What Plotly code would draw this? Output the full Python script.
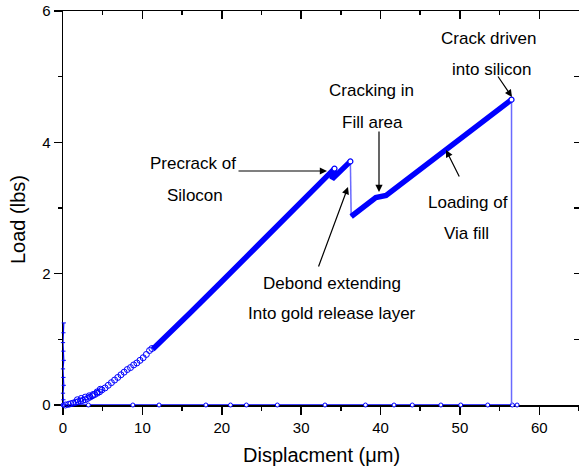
import plotly.graph_objects as go

# ---- data ----
spike_disp = [0.0, 0.05, 0.0, 0.1, 0.05, 0.0, 0.1, 0.05, 0.0, 0.05, 0.1]
spike_load = [0.0, 0.08, 0.18, 0.30, 0.42, 0.55, 0.68, 0.82, 0.95, 1.10, 1.25]

toe_disp = [0.3, 0.7, 1.0, 1.3, 1.6, 1.9, 2.2, 2.5, 2.8, 3.1, 3.4, 3.7, 4.0, 4.3, 4.6, 4.9,
            5.3, 5.7, 6.1, 6.5, 6.9, 7.3, 7.7, 8.1, 8.5, 8.9, 9.3, 9.7, 10.1, 10.5, 10.9, 11.2]
toe_load = [0.00, 0.01, 0.02, 0.03, 0.04, 0.05, 0.06, 0.07, 0.08, 0.10, 0.12, 0.14, 0.16, 0.18, 0.20, 0.23,
            0.26, 0.30, 0.34, 0.38, 0.42, 0.46, 0.50, 0.54, 0.57, 0.61, 0.64, 0.68, 0.72, 0.77, 0.83, 0.86]
toe2_disp = [1.8, 2.3, 2.8, 3.3, 3.8, 4.3, 4.7]
toe2_load = [0.08, 0.10, 0.12, 0.14, 0.16, 0.20, 0.24]

load1_disp = [11.3, 13.0, 16.0, 20.0, 24.0, 28.0, 32.0, 34.2, 33.9, 36.2]
load1_load = [0.85, 1.04, 1.40, 1.88, 2.36, 2.84, 3.33, 3.60, 3.44, 3.71]

drop1_disp = [36.2, 36.3]
drop1_load = [3.71, 2.87]

load2_disp = [36.3, 36.8, 38.0, 39.4, 40.7, 44.0, 48.0, 52.0, 56.5]
load2_load = [2.87, 2.92, 3.03, 3.16, 3.19, 3.50, 3.87, 4.24, 4.65]

drop2_disp = [56.5, 56.5]
drop2_load = [4.65, 0.0]

peak_disp = [34.2, 36.2, 56.5]
peak_load = [3.60, 3.71, 4.65]

base_disp = [0.0, 3.2, 8.8, 12.1, 18.0, 21.1, 23.1, 27.0, 33.0, 38.1, 41.7, 44.0, 47.6, 50.1, 53.5, 56.6, 57.2]
base_load = [0.0] * len(base_disp)

x_ticks = [0, 10, 20, 30, 40, 50, 60]
y_ticks = [0, 2, 4, 6]

BLUE = "#0000ff"
THIN = "#6a6aff"
FONT = "Arial, Liberation Sans, sans-serif"

# plot area in window pixels (page body margin is removed below)
PL, PT, PW, PH = 63, 11, 516, 394
FIG_W, FIG_H = 579, 471

fig = go.Figure()

fig.add_trace(go.Scatter(x=base_disp, y=base_load, mode="lines+markers",
                         line=dict(color=BLUE, width=1.5),
                         marker=dict(symbol="circle", size=4, color="white", line=dict(color=BLUE, width=1)),
                         cliponaxis=False, hoverinfo="skip"))
fig.add_trace(go.Scatter(x=spike_disp, y=spike_load, mode="lines+markers",
                         line=dict(color=BLUE, width=1.2),
                         marker=dict(symbol="line-ew-open", size=3, color=BLUE, line=dict(color=BLUE, width=1)),
                         cliponaxis=False, hoverinfo="skip"))
fig.add_trace(go.Scatter(x=toe_disp + toe2_disp, y=toe_load + toe2_load, mode="markers",
                         marker=dict(symbol="circle-open", size=6, color=BLUE, line=dict(color=BLUE, width=1)),
                         cliponaxis=False, hoverinfo="skip"))
fig.add_trace(go.Scatter(x=drop1_disp, y=drop1_load, mode="lines",
                         line=dict(color=THIN, width=1.5), hoverinfo="skip"))
fig.add_trace(go.Scatter(x=drop2_disp, y=drop2_load, mode="lines",
                         line=dict(color=THIN, width=1.5), hoverinfo="skip"))
fig.add_trace(go.Scatter(x=load1_disp, y=load1_load, mode="lines",
                         line=dict(color=BLUE, width=5.5), hoverinfo="skip"))
fig.add_trace(go.Scatter(x=load2_disp, y=load2_load, mode="lines",
                         line=dict(color=BLUE, width=5.5), hoverinfo="skip"))
fig.add_trace(go.Scatter(x=peak_disp, y=peak_load, mode="markers",
                         marker=dict(symbol="circle", size=5, color="white", line=dict(color=BLUE, width=1.2)),
                         cliponaxis=False, hoverinfo="skip"))
# invisible trace to anchor mirror axes
fig.add_trace(go.Scatter(x=[], y=[], xaxis="x2", yaxis="y2", hoverinfo="skip"))

axis_common = dict(showgrid=False, zeroline=False, linecolor="black", linewidth=1.5,
                   tickcolor="black", tickwidth=1.5, automargin=False)
tick_font = dict(family=FONT, size=15, color="black")

fig.update_layout(
    width=FIG_W, height=FIG_H,
    margin=dict(l=PL, r=FIG_W - PL - PW, t=PT, b=FIG_H - PT - PH, pad=0, autoexpand=False),
    paper_bgcolor="white", plot_bgcolor="white",
    showlegend=False, hovermode=False,
    xaxis=dict(range=[0, 65], tickvals=x_ticks, ticks="outside", ticklen=8, tickfont=tick_font,
               ticklabeloverflow="allow",
               minor=dict(dtick=5, tick0=0, ticks="outside", ticklen=4, tickcolor="black", tickwidth=1.5),
               layer="below traces", showline=True, **axis_common),
    yaxis=dict(range=[0, 6], tickvals=y_ticks, ticks="outside", ticklen=8, tickfont=tick_font,
               ticklabeloverflow="allow",
               minor=dict(dtick=1, tick0=0, ticks="outside", ticklen=4, tickcolor="black", tickwidth=1.5),
               layer="below traces", showline=True, **axis_common),
    xaxis2=dict(range=[0, 65], overlaying="x", side="top", anchor="y", tickvals=x_ticks,
                ticks="inside", ticklen=8, showticklabels=False, showline=True,
                minor=dict(dtick=5, tick0=0, ticks="inside", ticklen=4, tickcolor="black", tickwidth=1.5),
                **axis_common),
    yaxis2=dict(range=[0, 6], overlaying="y", side="right", anchor="x", dtick=1, tick0=0,
                ticks="inside", ticklen=5, showticklabels=False, showline=False,
                **axis_common),
)

ann_font = dict(family=FONT, size=17, color="black")

# positions below are reference-window pixels
texts = [
    ("Precrack of", 193, 163), ("Silocon", 195, 195),
    ("Debond extending", 332, 283), ("Into gold release layer", 332, 313),
    ("Cracking in", 371, 90), ("Fill area", 372, 122),
    ("Loading of", 468, 202), ("Via fill", 466, 233),
    ("Crack driven", 488, 38), ("into silicon", 491, 69),
]

def dx(px):
    return (px - PL) / (PW / 65)

def dy(py):
    return (PT + PH - py) / (PH / 6)

for t, px, py in texts:
    fig.add_annotation(x=dx(px), y=dy(py), xref="x", yref="y", text=t, showarrow=False,
                       font=ann_font, xanchor="center", yanchor="middle")

arrows = [
    ((237, 171), (327, 171)),
    ((318, 268), (348, 187)),
    ((379, 130), (379, 192)),
    ((460, 178), (446, 150)),
    ((497, 75), (512, 97)),
]
for (tx, ty), (hx, hy) in arrows:
    fig.add_annotation(x=dx(hx), y=dy(hy), ax=dx(tx), ay=dy(ty), xref="x", yref="y",
                       axref="x", ayref="y", text="", showarrow=True,
                       arrowhead=2, arrowsize=1.2, arrowwidth=1.2, arrowcolor="black")

# axis titles, placed in paper coords (relative to the plot area)
fig.add_annotation(x=(321 - PL) / PW, y=(PT + PH - 455) / PH, xref="paper", yref="paper",
                   text="Displacment (\u03bcm)", showarrow=False,
                   font=dict(family=FONT, size=20, color="black"), xanchor="center", yanchor="middle")
fig.add_annotation(x=(18 - PL) / PW, y=(PT + PH - 220) / PH, xref="paper", yref="paper",
                   text="Load (lbs)", showarrow=False, textangle=-90,
                   font=dict(family=FONT, size=20, color="black"), xanchor="center", yanchor="middle")

fig.write_html("out.html",
               config={"displayModeBar": False, "staticPlot": True},
               post_script="document.body.style.margin='0px';document.body.style.padding='0px';"
                           "document.body.style.overflow='hidden';")
